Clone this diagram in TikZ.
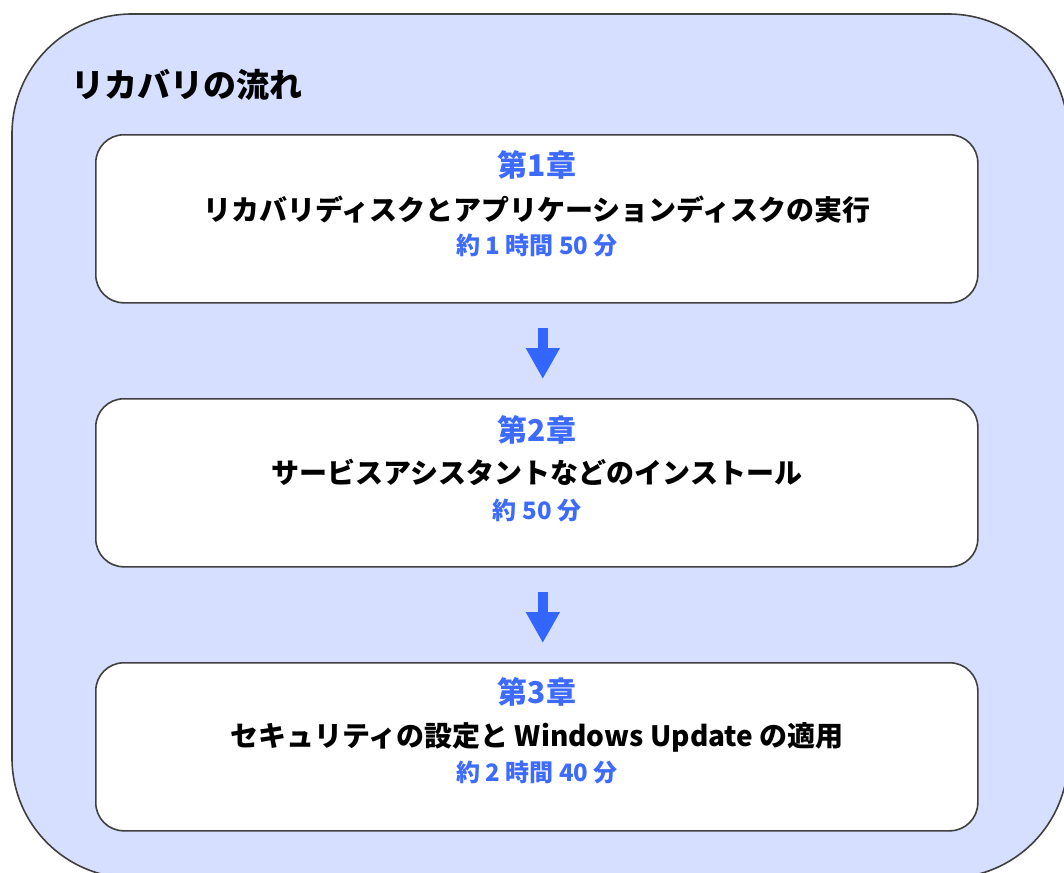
\documentclass[tikz,border=0pt]{standalone}
\usepackage{fontspec}
\setmainfont{Noto Sans CJK JP}
\usetikzlibrary{arrows.meta}
\definecolor{outerfill}{RGB}{214,223,255}
\definecolor{edge}{RGB}{64,64,64}
\definecolor{chblue}{RGB}{61,106,255}
\definecolor{arrblue}{RGB}{51,102,255}
\tikzset{
  outerbox/.style={draw=edge, line width=1.6pt, fill=outerfill, rounded corners=120pt},
  stepbox/.style={draw=edge, line width=1.6pt, fill=white, rounded corners=28pt,
    minimum width=882pt, minimum height=168pt, anchor=north west, inner sep=0pt},
  chap/.style={font=\fontsize{30}{34}\selectfont\bfseries, text=chblue, inner sep=0pt},
  mainline/.style={font=\fontsize{28}{32}\selectfont\bfseries, text=black, inner sep=0pt},
  subline/.style={font=\fontsize{24}{28}\selectfont\bfseries, text=chblue, inner sep=0pt},
  flowarrow/.style={draw=arrblue, line width=10pt, -{Triangle[width=32pt,length=31pt]}},
}
\begin{document}
\begin{tikzpicture}[x=1pt,y=-1pt]
\useasboundingbox (0,0) rectangle (1064,872);
\begin{scope}
\clip (0,0) rectangle (1064,872);
\path[outerbox] (12,14) rectangle (1068,878);
\end{scope}
\node[anchor=west, font=\fontsize{33}{37}\selectfont\bfseries, inner sep=0pt] (title) at (71,85) {リカバリの流れ};

\node[stepbox] (b1) at (95,134) {};
\node[stepbox] (b2) at (95,398) {};
\node[stepbox] (b3) at (95,662) {};

\node[chap] (c1) at (537,165) {第1章};
\node[mainline] (m1) at (537,210) {リカバリディスクとアプリケーションディスクの実行};
\node[subline] (s1) at (537,245) {約 1 時間 50 分};

\node[chap] (c2) at (537,430) {第2章};
\node[mainline] (m2) at (537,472) {サービスアシスタントなどのインストール};
\node[subline] (s2) at (537,510) {約 50 分};

\node[chap] (c3) at (537,692) {第3章};
\node[mainline] (m3) at (537,737) {セキュリティの設定と Windows Update の適用};
\node[subline] (s3) at (537,772) {約 2 時間 40 分};

\draw[flowarrow] ([xshift=6pt,yshift=-24pt]b1.south) -- ([xshift=6pt,yshift=19pt]b2.north);
\draw[flowarrow] ([xshift=6pt,yshift=-24pt]b2.south) -- ([xshift=6pt,yshift=19pt]b3.north);
\end{tikzpicture}
\end{document}
